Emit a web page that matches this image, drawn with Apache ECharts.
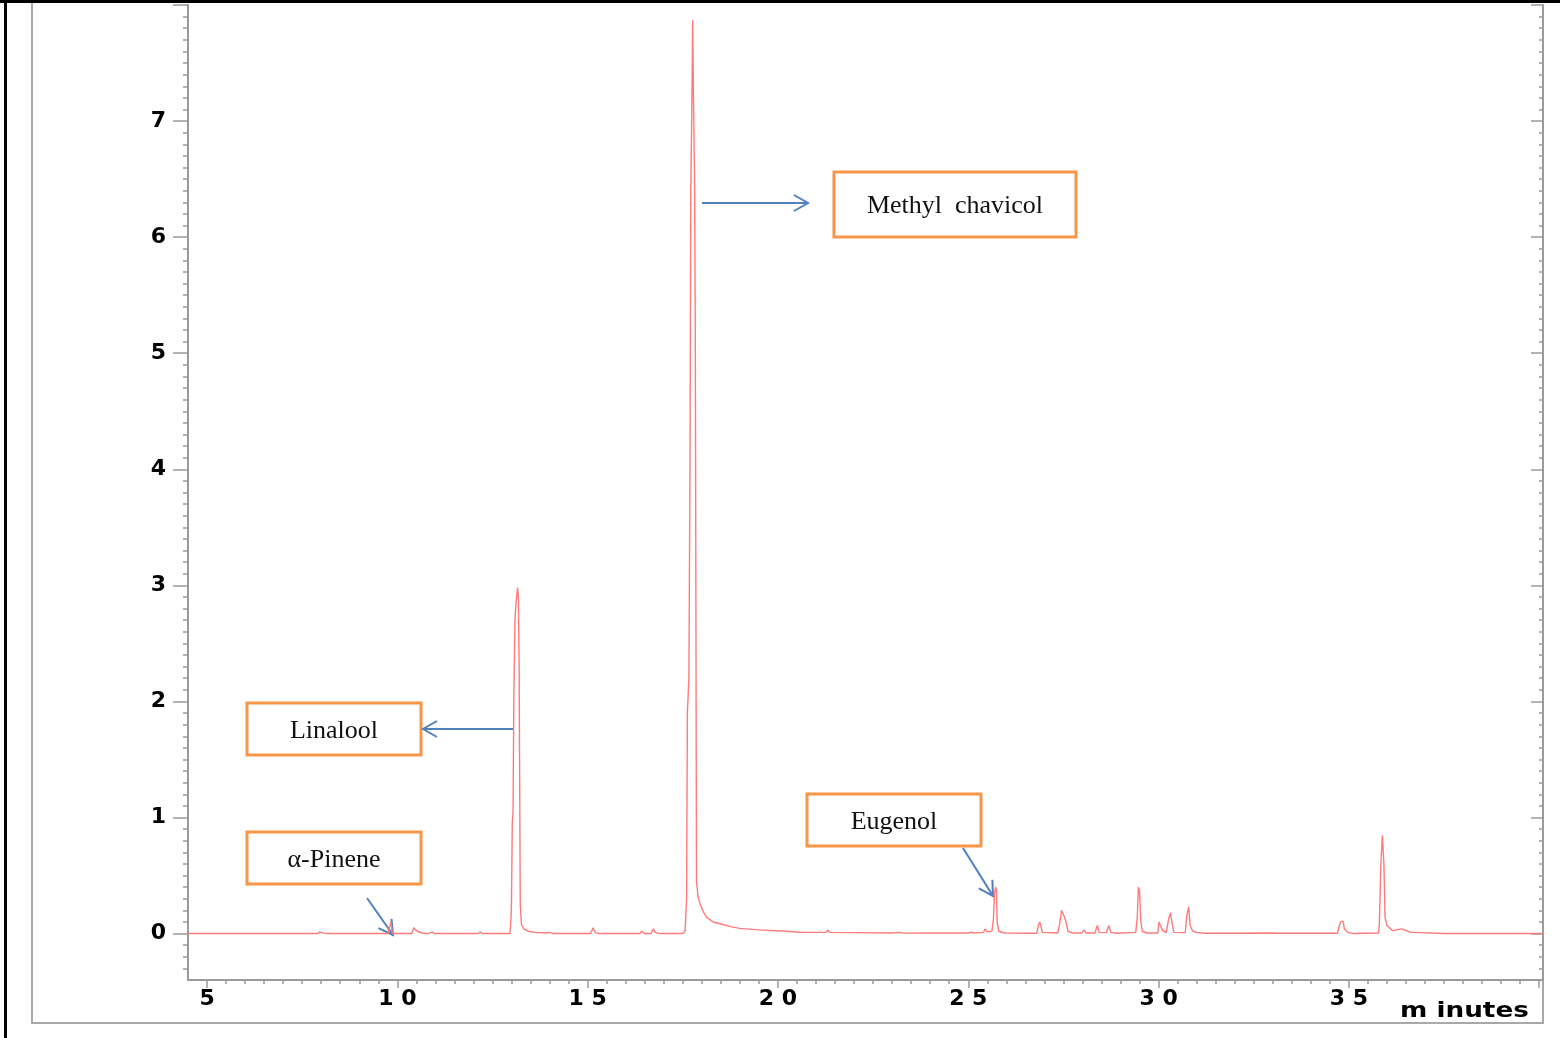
<!DOCTYPE html>
<html>
<head>
<meta charset="utf-8">
<title>Chromatogram</title>
<script src="https://cdn.jsdelivr.net/npm/echarts@6.0.0/dist/echarts.min.js"></script>
<style>
    html, body { margin: 0; padding: 0; background: #fff; }
    #main { width: 1560px; height: 1038px; }
</style>
</head>
<body>
<div id="main"></div>
<script>
// retention time (minutes) and detector signal
var retTime = [
    4.5, 5.85, 5.88, 5.92, 7.45, 7.5, 7.55, 7.9, 7.97, 8.05, 8.2,
    9.75, 9.83, 9.87,
    10.38, 10.43, 10.46, 10.52, 10.65, 10.8, 10.92, 10.98,
    12.1, 12.18, 12.25, 12.38, 12.43, 12.5,
    12.96, 12.99, 13.0, 13.02, 13.04, 13.06, 13.09, 13.12, 13.16, 13.18, 13.2, 13.21, 13.23, 13.26, 13.32, 13.45, 13.6, 13.9,
    14.0, 14.1, 14.14, 14.2,
    15.08, 15.14, 15.2, 15.3,
    16.38, 16.42, 16.5, 16.67, 16.72, 16.78, 16.9,
    17.5, 17.56, 17.6, 17.62, 17.66, 17.69, 17.71, 17.74, 17.76, 17.78, 17.81, 17.83, 17.86, 17.9, 17.95,
    18.05, 18.13, 18.3, 18.48, 18.75, 19.0, 19.5, 20.2, 20.6,
    21.25, 21.31, 21.37, 22.0, 23.0, 23.2, 23.3, 24.0,
    25.0, 25.07, 25.15, 25.4, 25.44, 25.5,
    25.62, 25.66, 25.69, 25.72, 25.74, 25.76, 25.8, 25.95,
    26.8, 26.85, 26.88, 26.92, 26.95,
    27.35, 27.4, 27.45, 27.49, 27.53, 27.57, 27.62, 27.75,
    27.98, 28.04, 28.1, 28.33, 28.39, 28.44, 28.63, 28.69, 28.75, 28.9,
    29.4, 29.44, 29.47, 29.5, 29.53, 29.57, 29.7,
    29.98, 30.01, 30.06, 30.1, 30.2, 30.26, 30.31, 30.35, 30.4,
    30.7, 30.74, 30.79, 30.83, 30.9, 31.0, 31.2, 32.0, 33.0, 33.05, 33.1,
    34.7, 34.76, 34.79, 34.85, 34.88, 34.98, 35.1,
    35.78, 35.8, 35.84, 35.88, 35.92, 35.95, 36.0, 36.15, 36.4, 36.6, 36.9, 37.5, 40.1
];
var signal = [
    0.0, 0.0, 0.012, 0.0, 0.0, 0.008, 0.0, 0.0, 0.015, 0.004, 0.0,
    0.0, 0.1, 0.0,
    0.0, 0.05, 0.06, 0.02, 0.005, 0.0, 0.012, 0.0,
    0.0, 0.012, 0.0, 0.0, 0.014, 0.0,
    0.0, 0.15, 0.3, 0.95, 1.05, 2.0, 2.7, 2.85, 2.98, 2.9, 2.3, 1.6, 0.25, 0.08, 0.04, 0.02, 0.01, 0.005,
    0.01, 0.0, 0.01, 0.0,
    0.0, 0.05, 0.01, 0.0,
    0.0, 0.02, 0.0, 0.0, 0.04, 0.01, 0.0,
    0.0, 0.02, 0.3, 1.9, 2.2, 4.1, 6.4, 7.2, 7.87, 7.2, 6.5, 5.0, 0.45, 0.32, 0.26,
    0.18, 0.14, 0.1, 0.085, 0.06, 0.045, 0.032, 0.02, 0.012,
    0.01, 0.03, 0.01, 0.008, 0.005, 0.01, 0.004, 0.005,
    0.005, 0.012, 0.005, 0.01, 0.04, 0.015,
    0.02, 0.12, 0.35, 0.4, 0.38, 0.1, 0.02, 0.005,
    0.003, 0.08, 0.1, 0.09, 0.01,
    0.005, 0.08, 0.2, 0.21, 0.14, 0.1, 0.02, 0.005,
    0.005, 0.03, 0.005, 0.005, 0.07, 0.01, 0.008, 0.07, 0.01, 0.003,
    0.01, 0.14, 0.4, 0.37, 0.12, 0.02, 0.005,
    0.005, 0.1, 0.11, 0.03, 0.008, 0.12, 0.18, 0.1, 0.01,
    0.008, 0.15, 0.23, 0.07, 0.02, 0.01, 0.003, 0.003, 0.005, 0.01, 0.003,
    0.003, 0.08, 0.105, 0.105, 0.04, 0.01, 0.0,
    0.005, 0.085, 0.6, 0.845, 0.6, 0.14, 0.07, 0.025, 0.04, 0.012, 0.008, 0.0, 0.0
];

// axis ticks and labels
var xLabels = [5, 10, 15, 20, 25, 30, 35];
var xMajorTicks = [5, 10, 15, 20, 25, 30, 35, 40];
var yLabels = [0, 1, 2, 3, 4, 5, 6, 7];
var yMajorTicks = [0, 1, 2, 3, 4, 5, 6, 7, 8];

var xMinorTicks = [];
for (var i = 11; i <= 79; i++) {
    if (i % 10 !== 0) xMinorTicks.push(i / 2);
}
var yMinorTicks = [];
for (var j = -3; j <= 79; j++) {
    if (j % 10 !== 0) yMinorTicks.push(j / 10);
}

var points = retTime.map(function (t, k) { return [t, signal[k]]; });

var axisGray = '#9a9a9a';
var labelFont = {
    color: '#000',
    fontFamily: 'DejaVu Sans',
    fontWeight: 'bold',
    fontSize: 22
};
// spaced digits like the original ("1 0")
function spaced(v) {
    return String(v).split('').join(' ');
}

function yAxisDef(pos, ticks, len, inside, withLine, withLabels) {
    return {
        type: 'value',
        position: pos,
        min: -0.4,
        max: 8,
        splitLine: { show: false },
        axisLine: { show: withLine, onZero: false, lineStyle: { color: axisGray, width: 2 } },
        axisTick: {
            show: true,
            inside: inside,
            length: len,
            customValues: ticks,
            lineStyle: { color: axisGray, width: 1.5 }
        },
        axisLabel: withLabels ? Object.assign({
            show: true,
            margin: 22,
            customValues: yLabels,
            formatter: spaced
        }, labelFont) : { show: false }
    };
}

function xAxisDef(ticks, len, withLine, withLabels) {
    return {
        type: 'value',
        position: 'bottom',
        min: 4.5,
        max: 40.1,
        splitLine: { show: false },
        axisLine: { show: withLine, onZero: false, lineStyle: { color: axisGray, width: 2 } },
        axisTick: {
            show: true,
            length: len,
            customValues: ticks,
            lineStyle: { color: axisGray, width: 1.5 }
        },
        axisLabel: withLabels ? Object.assign({
            show: true,
            margin: 8,
            customValues: xLabels,
            formatter: spaced
        }, labelFont) : { show: false }
    };
}

// boxed labels and arrows
var boxes = [
    { text: 'Methyl  chavicol', x: 834, y: 172, w: 242, h: 65 },
    { text: 'Linalool', x: 247, y: 703, w: 174, h: 52 },
    { text: 'α-Pinene', x: 247, y: 832, w: 174, h: 52 },
    { text: 'Eugenol', x: 807, y: 794, w: 174, h: 52 }
];
var arrows = [
    [702, 203, 808, 203],
    [513, 729, 423, 729],
    [367, 898, 393, 935],
    [963, 848, 993, 896]
];

var graphics = [
    // outer black frame edges
    { type: 'rect', shape: { x: 0, y: 0, width: 1560, height: 3 }, style: { fill: '#000' }, silent: true },
    { type: 'rect', shape: { x: 4, y: 0, width: 3, height: 1038 }, style: { fill: '#000' }, silent: true },
    // gray picture frame
    { type: 'polyline', shape: { points: [[32, 3], [32, 1023], [1543, 1023], [1543, 978]] },
      style: { stroke: '#a8a8a8', lineWidth: 2, fill: null }, silent: true },
    // axis title, stretched wide like the original
    { type: 'text', x: 1400, y: 1012, scaleX: 1.25,
      style: { text: 'm inutes', fill: '#000', font: 'bold 21px "DejaVu Sans"', align: 'left', verticalAlign: 'middle' } }
];

boxes.forEach(function (b) {
    graphics.push({
        type: 'rect',
        shape: { x: b.x, y: b.y, width: b.w, height: b.h },
        style: { fill: '#fff', stroke: '#F79646', lineWidth: 3 }
    });
    graphics.push({
        type: 'text',
        x: b.x + b.w / 2,
        y: b.y + b.h / 2 + 2,
        style: { text: b.text, fill: '#111', font: '26px "Liberation Serif"', align: 'center', verticalAlign: 'middle' }
    });
});

arrows.forEach(function (a) {
    var dx = a[2] - a[0], dy = a[3] - a[1];
    var len = Math.sqrt(dx * dx + dy * dy);
    var ux = dx / len, uy = dy / len;
    var bx = a[2] - 14 * ux, by = a[3] - 14 * uy;
    graphics.push({
        type: 'line',
        shape: { x1: a[0], y1: a[1], x2: a[2], y2: a[3] },
        style: { stroke: '#4F81BD', lineWidth: 2 }
    });
    graphics.push({
        type: 'polyline',
        shape: { points: [[bx - 8 * uy, by + 8 * ux], [a[2], a[3]], [bx + 8 * uy, by - 8 * ux]] },
        style: { stroke: '#4F81BD', lineWidth: 2, fill: null }
    });
});

var myChart = echarts.init(document.getElementById('main'));

var option = {
    backgroundColor: '#fff',
    animation: false,
    grid: { left: 188, right: 17, top: 5, bottom: 58, containLabel: false },
    xAxis: [
        xAxisDef(xMajorTicks, 8, true, true),
        xAxisDef(xMinorTicks, 4, false, false)
    ],
    yAxis: [
        yAxisDef('left', yMajorTicks, 15, false, true, true),
        yAxisDef('left', yMinorTicks, 5, false, false, false),
        yAxisDef('right', yMajorTicks, 12, true, true, false),
        yAxisDef('right', yMinorTicks, 4, true, false, false)
    ],
    series: [{
        name: 'signal',
        type: 'line',
        xAxisIndex: 0,
        yAxisIndex: 0,
        data: points,
        showSymbol: false,
        smooth: false,
        lineStyle: { color: '#ff7a7a', width: 1.4 }
    }],
    graphic: graphics
};

myChart.setOption(option);
</script>
</body>
</html>
